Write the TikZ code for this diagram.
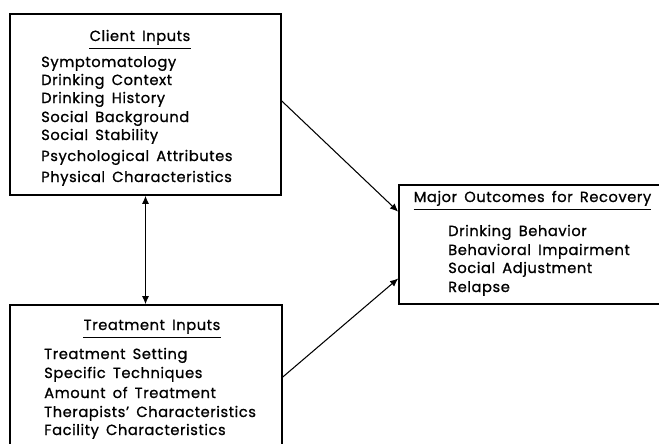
\documentclass[tikz,border=0pt]{standalone}
\usepackage{fontspec}
\setmainfont{Poppins}[FakeBold=0.9, LetterSpace=4, WordSpace=1.6]
\usetikzlibrary{arrows.meta, calc, positioning}

\tikzset{
    box/.style={draw, line width=1.3pt, inner sep=0pt},
    head/.style={anchor=base, inner sep=0pt, font=\fontsize{12.5}{14}\selectfont},
    item/.style={anchor=base west, inner sep=0pt, font=\fontsize{12.5}{14}\selectfont},
    link/.style={line width=0.9pt, -{Latex[length=7pt, width=6pt]}}
}

\begin{document}
\begin{tikzpicture}[x=0.03cm, y=-0.03cm]

    \useasboundingbox (0,0) rectangle (659,444);

    % Boxes
    \node[box, minimum width=8.13cm, minimum height=5.43cm] (client) at (145.5,104.5) {};
    \node[box, minimum width=8.16cm, minimum height=4.32cm] (treat) at (146,377) {};
    \node[box, minimum width=8.43cm, minimum height=3.57cm] (outcome) at (539.5,244.5) {};

    % Headings
    \node[head] (chead) at (140,41) {Client Inputs};
    \node[head] (thead) at (152,330) {Treatment Inputs};
    \node[head] (ohead) at (532.5,202) {Major Outcomes for Recovery};
    \foreach \h in {chead, thead, ohead}
        \draw[line width=0.9pt] ([yshift=-6pt]\h.base west) -- ([yshift=-6pt]\h.base east);

    % Client items
    \foreach \t [count=\i] / \y in {Symptomatology/67, Drinking Context/85, Drinking History/103,
        Social Background/122, Social Stability/140, Psychological Attributes/161, Physical Characteristics/182}
        \node[item] (c\i) at (41,\y) {\t};

    % Treatment items
    \foreach \t [count=\i] / \y in {Treatment Setting/359, Specific Techniques/378, Amount of Treatment/398,
        Therapists' Characteristics/417, Facility Characteristics/435}
        \node[item] (t\i) at (44,\y) {\t};

    % Outcome items
    \foreach \t [count=\i] / \y in {Drinking Behavior/236, Behavioral Impairment/255, Social Adjustment/273, Relapse/292}
        \node[item] (o\i) at (448,\y) {\t};

    % Arrows
    \draw[line width=0.9pt, {Latex[length=7pt, width=6pt]}-{Latex[length=7pt, width=6pt]}] (client.south) -- (client.south |- treat.north);
    \draw[link] ([yshift=3pt]client.east) -- ([yshift=28pt]outcome.west);
    \draw[link] (treat.east) -- ([yshift=-29pt]outcome.west);

\end{tikzpicture}
\end{document}
